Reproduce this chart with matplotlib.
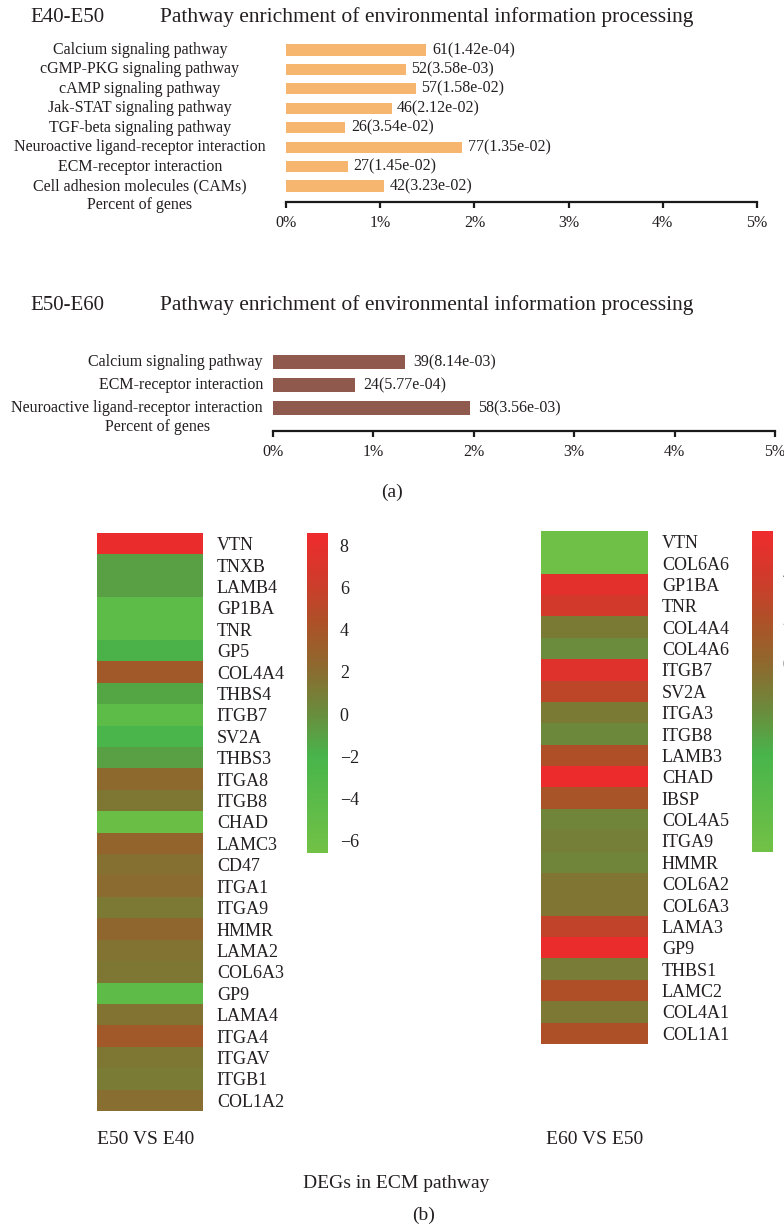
import matplotlib
matplotlib.use("Agg")
import matplotlib.pyplot as plt
import numpy as np
from matplotlib.colors import LinearSegmentedColormap
from matplotlib.transforms import blended_transform_factory

plt.rcParams['font.family'] = ['Liberation Serif', 'DejaVu Serif']
plt.rcParams['axes.unicode_minus'] = True
TXT = '#231f20'

# ---------------- data ----------------
# (a) pathway enrichment, E40-E50
path_e40 = ['Calcium signaling pathway', 'cGMP-PKG signaling pathway', 'cAMP signaling pathway',
            'Jak-STAT signaling pathway', 'TGF-beta signaling pathway',
            'Neuroactive ligand-receptor interaction', 'ECM-receptor interaction',
            'Cell adhesion molecules (CAMs)']
pct_e40 = [1.49, 1.27, 1.38, 1.12, 0.63, 1.87, 0.66, 1.04]
cnt_e40 = [61, 52, 57, 46, 26, 77, 27, 42]
pval_e40 = ['1.42e-04', '3.58e-03', '1.58e-02', '2.12e-02', '3.54e-02', '1.35e-02', '1.45e-02', '3.23e-02']

# (a) pathway enrichment, E50-E60
path_e50 = ['Calcium signaling pathway', 'ECM-receptor interaction',
            'Neuroactive ligand-receptor interaction']
pct_e50 = [1.31, 0.82, 1.96]
cnt_e50 = [39, 24, 58]
pval_e50 = ['8.14e-03', '5.77e-04', '3.56e-03']

x_ticks = [0, 1, 2, 3, 4, 5]

# (b) DEGs in ECM pathway, log fold change
genes_a = ['VTN', 'TNXB', 'LAMB4', 'GP1BA', 'TNR', 'GP5', 'COL4A4', 'THBS4', 'ITGB7', 'SV2A',
           'THBS3', 'ITGA8', 'ITGB8', 'CHAD', 'LAMC3', 'CD47', 'ITGA1', 'ITGA9', 'HMMR', 'LAMA2',
           'COL6A3', 'GP9', 'LAMA4', 'ITGA4', 'ITGAV', 'ITGB1', 'COL1A2']
fc_a = [8.3, -1.0, -1.0, -4.3, -4.3, -1.9, 3.6, -1.3, -4.3, -2.2,
        -1.0, 2.2, 1.3, -5.8, 2.7, 1.8, 2.1, 1.2, 2.4, 1.6,
        1.3, -4.5, 1.6, 3.6, 1.3, 1.1, 1.9]
cbar_a = [8, 6, 4, 2, 0, -2, -4, -6]

genes_b = ['VTN', 'COL6A6', 'GP1BA', 'TNR', 'COL4A4', 'COL4A6', 'ITGB7', 'SV2A', 'ITGA3', 'ITGB8',
           'LAMB3', 'CHAD', 'IBSP', 'COL4A5', 'ITGA9', 'HMMR', 'COL6A2', 'COL6A3', 'LAMA3', 'GP9',
           'THBS1', 'LAMC2', 'COL4A1', 'COL1A1']
fc_b = [-8.1, -8.1, 5.2, 4.0, -1.1, -2.1, 4.9, 2.8, -1.1, -2.0,
        2.0, 5.7, 1.6, -1.8, -1.4, -1.8, -0.8, -0.8, 3.0, 5.6,
        -1.2, 2.0, -1.0, 1.9]
cbar_b = [4, 2, 0, -2, -4, -6, -8]

# ---------------- figure ----------------
W, H = 784, 1227
fig = plt.figure(figsize=(W / 100, H / 100), dpi=100)


def px_axes(x0, y0, x1, y1):
    return fig.add_axes([x0 / W, 1 - y1 / H, (x1 - x0) / W, (y1 - y0) / H])


def ftext(x, y, s, **kw):
    kw.setdefault('color', TXT)
    fig.text(x / W, 1 - y / H, s, **kw)


def bar_panel(box, row0, step, spine_y, names, pct, cnt, pval, color,
              label_x, label_ha, pg_x, pg_off, val_gap):
    x0, x1 = box
    top = row0 - 0.6 * step
    ax = px_axes(x0, top, x1, spine_y)
    n = len(names)
    y = np.arange(n)
    ax.barh(y, pct, height=0.57, color=color, zorder=2)
    ax.set_xlim(0, 5)
    ax.set_ylim((spine_y - row0) / step, -0.6)
    for side in ('top', 'right', 'left'):
        ax.spines[side].set_visible(False)
    ax.spines['bottom'].set_linewidth(1.6)
    ax.spines['bottom'].set_color('#1a1a1a')
    ax.set_yticks([])
    ax.set_xticks(x_ticks)
    ax.set_xticklabels([f'{t}%' for t in x_ticks])
    ax.tick_params(axis='x', direction='out', length=4.5, width=1.6, color='#1a1a1a',
                   labelsize=11.5, labelcolor=TXT, pad=5)
    for yi, p, c, pv in zip(y, pct, cnt, pval):
        ax.annotate(f'{c}({pv})', (p, yi), xytext=(val_gap, 0), textcoords='offset points',
                    va='center', ha='left', fontsize=11.5, color=TXT)
    tr = blended_transform_factory(fig.transFigure, ax.transData)
    for yi, nm in zip(y, names):
        ax.text(label_x / W, yi, nm, transform=tr, ha=label_ha, va='center',
                fontsize=11.5, color=TXT)
    ax.text(pg_x / W, n + pg_off, 'Percent of genes', transform=tr, ha='center',
            va='center', fontsize=11.5, color=TXT)
    return ax


# titles
ftext(30, 17, 'E40-E50', fontsize=15, va='center', ha='left')
ftext(160, 17, 'Pathway enrichment of environmental information processing',
      fontsize=15.5, va='center', ha='left')
ftext(30, 305, 'E50-E60', fontsize=15, va='center', ha='left')
ftext(160, 305, 'Pathway enrichment of environmental information processing',
      fontsize=15.5, va='center', ha='left')

bar_panel((286, 757), 50, 19.43, 202, path_e40, pct_e40, cnt_e40, pval_e40,
          '#F7B66F', 140, 'center', 140, 0.0, 4)
bar_panel((273, 775), 362, 23.0, 431, path_e50, pct_e50, cnt_e50, pval_e50,
          '#8F5A4D', 263, 'right', 158, -0.17, 6)

ftext(392, 492, '(a)', fontsize=14, ha='center', va='center')

# ---------------- heatmaps ----------------
cmap = LinearSegmentedColormap.from_list('deg', [
    (0.00, '#72c146'), (0.30, '#48b54b'), (0.45, '#6d893b'), (0.58, '#8d6a2f'),
    (0.72, '#ad5128'), (0.86, '#d13a2b'), (1.00, '#ef2b2d')])


def heat_panel(hbox, cbox, genes, vals, vmin, vmax, cticks, gene_pad, cb_pad):
    ax = px_axes(*hbox)
    data = np.array(vals, dtype=float).reshape(-1, 1)
    im = ax.imshow(data, cmap=cmap, vmin=vmin, vmax=vmax, aspect='auto',
                   interpolation='nearest')
    ax.set_xticks([])
    ax.set_yticks(np.arange(len(genes)))
    ax.set_yticklabels(genes)
    ax.yaxis.tick_right()
    ax.tick_params(axis='y', length=0, pad=gene_pad, labelsize=13, labelcolor=TXT)
    for s in ax.spines.values():
        s.set_visible(False)
    cax = px_axes(*cbox)
    cb = fig.colorbar(im, cax=cax)
    cb.outline.set_visible(False)
    cb.set_ticks(cticks)
    cax.tick_params(length=0, pad=cb_pad, labelsize=13, labelcolor=TXT)
    return ax


heat_panel((97, 533, 203, 1111), (307, 533, 328, 853), genes_a, fc_a, -6.6, 8.6, cbar_a, 10, 8.5)
heat_panel((541, 531, 648, 1044), (752, 531, 773, 852), genes_b, fc_b, -8.4, 5.9, cbar_b, 10, 7)

ftext(146, 1140, 'E50 VS E40', fontsize=14, ha='center', va='center')
ftext(595, 1140, 'E60 VS E50', fontsize=14, ha='center', va='center')
ftext(396, 1183, 'DEGs in ECM pathway', fontsize=14, ha='center', va='center')
ftext(424, 1215, '(b)', fontsize=14, ha='center', va='center')

fig.savefig('out.png', dpi=100, facecolor='white')
